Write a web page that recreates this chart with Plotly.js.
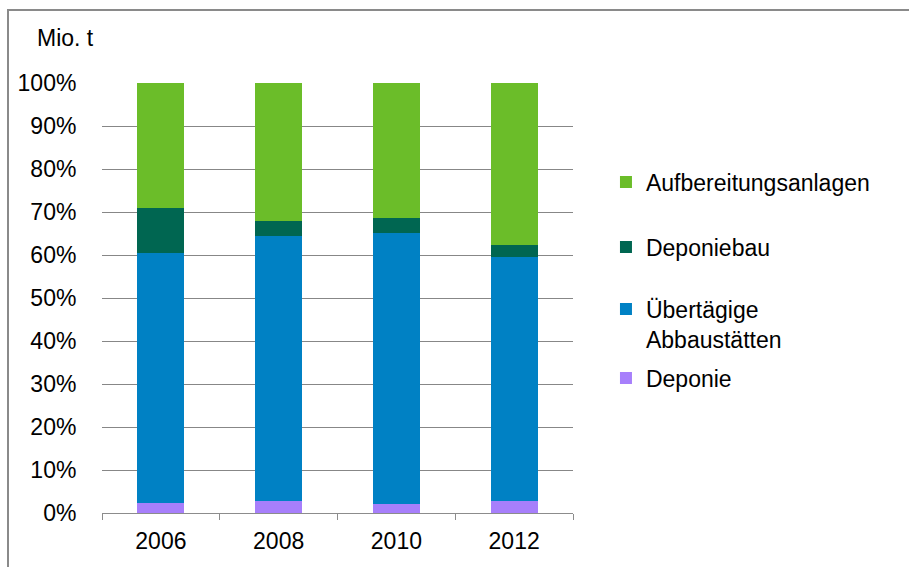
<!DOCTYPE html>
<html>
<head>
<meta charset="utf-8">
<script src="https://cdn.plot.ly/plotly-3.0.1.min.js"></script>
<style>
  html, body { margin: 0; padding: 0; background: #fff; }
  #wrap { position: relative; width: 909px; height: 567px; overflow: hidden; }
  #chart { position: absolute; left: 0; top: 0; width: 909px; height: 567px; }
  #frame { position: absolute; left: 7px; top: 9px; width: 1000px; height: 700px;
           border-top: 2px solid #8a8a8a; border-left: 2px solid #8a8a8a; pointer-events: none; }
</style>
</head>
<body>
<div id="wrap">
  <div id="chart"></div>
  <div id="frame"></div>
</div>
<script>
const years = ['2006', '2008', '2010', '2012'];
const deponie = [2.3, 2.9, 2.1, 2.9];
const uebertaegig = [58.2, 61.5, 63.1, 56.6];
const deponiebau = [10.4, 3.4, 3.3, 2.8];
const aufbereitung = [29.1, 32.2, 31.5, 37.7];
const yTicks = [0, 10, 20, 30, 40, 50, 60, 70, 80, 90, 100];

const FONT = 'Liberation Sans, Arial, sans-serif';
const FS = 23;

function bar(name, y, color, legendId) {
  return {
    type: 'bar', x: years, y: y, name: name, legend: legendId,
    marker: { color: color, line: { width: 0 } },
    hoverinfo: 'skip'
  };
}

const data = [
  bar('Deponie', deponie, '#a77ffb', 'legend4'),
  bar('Übertägige<br>Abbaustätten', uebertaegig, '#0081c4', 'legend3'),
  bar('Deponiebau', deponiebau, '#006651', 'legend2'),
  bar('Aufbereitungsanlagen', aufbereitung, '#6bbd29', 'legend')
];

function leg(yc) {
  return {
    x: 1.07, y: (513 - yc) / 430, xanchor: 'left', yanchor: 'middle',
    valign: 'top',
    font: { family: FONT, size: FS, color: '#000' },
    bgcolor: 'rgba(0,0,0,0)'
  };
}

const layout = {
  width: 909, height: 567,
  margin: { l: 102, r: 336, t: 83, b: 54 },
  paper_bgcolor: '#ffffff', plot_bgcolor: '#ffffff',
  barmode: 'stack', bargap: 0.6,
  font: { family: FONT, size: FS, color: '#000' },
  showlegend: true,
  legend: leg(182),
  legend2: leg(247),
  legend3: leg(324),
  legend4: leg(378),
  xaxis: {
    type: 'category', tickvals: years, ticktext: years,
    showline: true, linecolor: '#8c8c8c', linewidth: 1,
    ticks: 'outside', tickson: 'boundaries', ticklen: 6, tickcolor: '#8c8c8c',
    ticklabelstandoff: 7,
    showgrid: false, zeroline: false,
    tickfont: { family: FONT, size: FS, color: '#000' }
  },
  yaxis: {
    range: [0, 100], tickvals: yTicks, ticktext: yTicks.map(v => v + '%'),
    showgrid: true, gridcolor: '#878787', gridwidth: 1,
    showline: false, zeroline: false,
    ticks: 'outside', ticklen: 20, tickcolor: 'rgba(0,0,0,0)',
    tickfont: { family: FONT, size: FS, color: '#000' }
  },
  annotations: [{
    text: 'Mio. t', xref: 'paper', yref: 'paper',
    x: (35 - 102) / 471, y: (513 - 38) / 430,
    xanchor: 'left', yanchor: 'middle', showarrow: false,
    font: { family: FONT, size: FS, color: '#000' }
  }]
};

Plotly.newPlot('chart', data, layout, { displayModeBar: false, staticPlot: true });
</script>
</body>
</html>
